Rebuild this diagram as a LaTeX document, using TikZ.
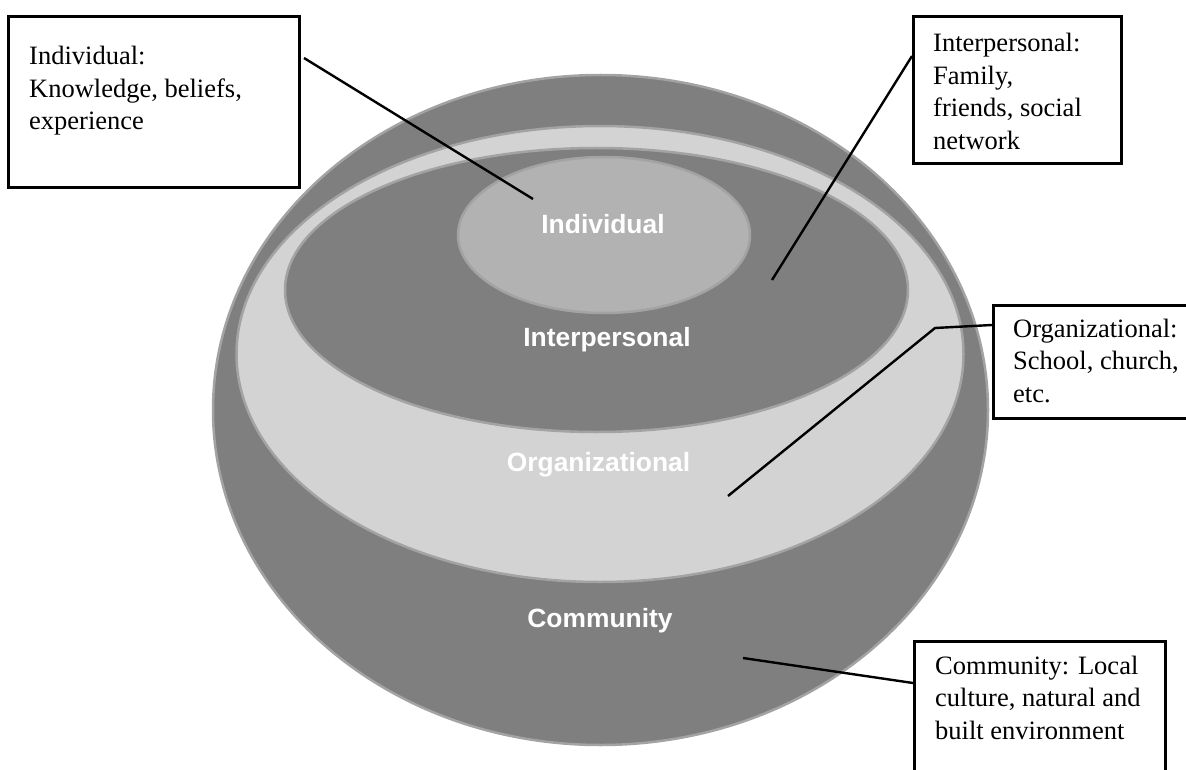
\documentclass[tikz,border=0pt]{standalone}
\usepackage{fontspec}
\setmainfont{Liberation Serif}
\setsansfont{Liberation Sans}
\definecolor{ringdark}{RGB}{127,127,127}
\definecolor{ringlight}{RGB}{211,211,211}
\definecolor{ringmid}{RGB}{178,178,178}
\definecolor{ringedge}{RGB}{163,163,163}
\tikzset{
  ring/.style={draw=ringedge, line width=2.5pt},
  layerlabel/.style={text=white, font=\sffamily\bfseries\fontsize{26.4}{30}\selectfont, inner sep=0pt},
  callout/.style={draw=black, line width=2.6pt, fill=white, inner sep=0pt},
  callouttext/.style={font=\fontsize{26.5}{32.5}\selectfont, align=left, inner sep=0pt, anchor=base west},
  leader/.style={draw=black, line width=2.4pt}
}
\begin{document}
\begin{tikzpicture}[x=1pt,y=-1pt]
\useasboundingbox (0,0) rectangle (1186,770);
% rings
\filldraw[ring, fill=ringdark] (600.5,410) ellipse [x radius=387.5, y radius=335];
\filldraw[ring, fill=ringlight] (600,354) ellipse [x radius=363.5, y radius=228];
\filldraw[ring, fill=ringdark] (596.5,290) ellipse [x radius=311.5, y radius=142];
\filldraw[ring, fill=ringmid] (604,235) ellipse [x radius=146, y radius=78];
% layer labels
\node[layerlabel] (lind) at (603,224) {Individual};
\node[layerlabel] (linter) at (607,340) {Interpersonal};
\node[layerlabel] (lorg) at (598.5,465) {Organizational};
\node[layerlabel] (lcom) at (600,621) {Community};
% callout boxes
\node[callout, anchor=north west, minimum width=291, minimum height=171] (b1) at (7,15) {};
\node[callout, anchor=north west, minimum width=208, minimum height=147] (b2) at (912,15) {};
\node[callout, anchor=north west, minimum width=208, minimum height=113] (b3) at (992,304) {};
\node[callout, anchor=north west, minimum width=251, minimum height=160] (b4) at (913,640) {};
% texts (anchored at the baseline of the last line)
\node[callouttext] (t1) at (29,130) {Individual:\\Knowledge, beliefs,\\experience};
\node[callouttext] (t2) at (933,149.5) {Interpersonal:\\Family,\\friends, social\\network};
\node[callouttext] (t3) at (1013,402) {Organizational:\\School, church,\\etc.};
\node[callouttext] (t4) at (935,739) {Community: Local\\culture, natural and\\built environment};
% leader lines
\coordinate (s1) at (304,58);
\coordinate (e1) at (533,199);
\coordinate (s2) at (912,56);
\coordinate (e2) at (772,280);
\coordinate (s3) at (992,325);
\coordinate (k3) at (935,328);
\coordinate (e3) at (728,496);
\coordinate (s4) at (913,683);
\coordinate (e4) at (743,658);
\draw[leader] (s1) -- (e1);
\draw[leader] (s2) -- (e2);
\draw[leader] (s3) -- (k3) -- (e3);
\draw[leader] (s4) -- (e4);
\end{tikzpicture}
\end{document}
